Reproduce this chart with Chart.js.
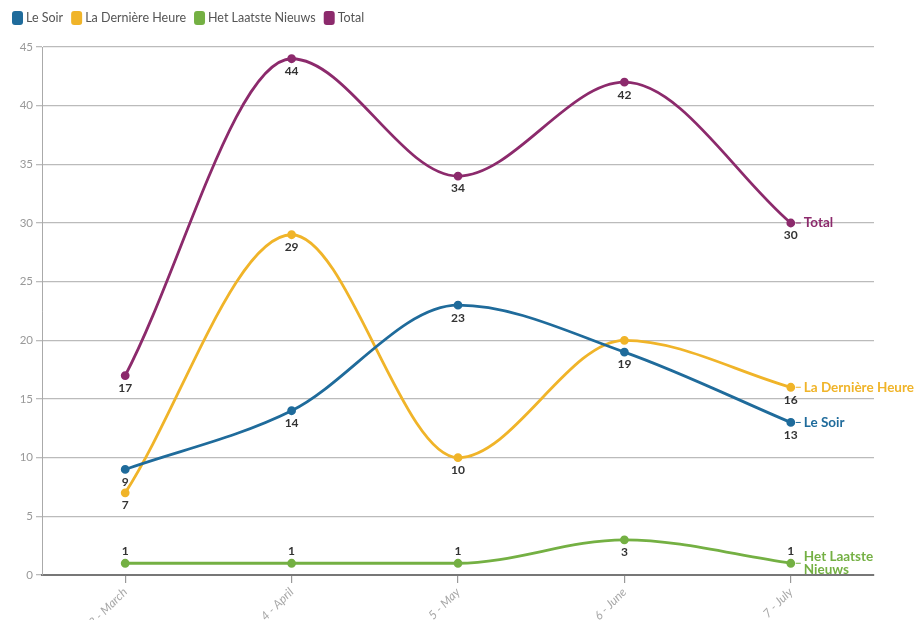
<!DOCTYPE html>
<html>
<head>
<meta charset="utf-8">
<script src="https://cdn.jsdelivr.net/npm/chart.js@4/dist/chart.umd.min.js"></script>
<style>
  html, body { margin: 0; padding: 0; background: #fff; }
  #wrap { width: 914px; height: 620px; position: relative; }
</style>
</head>
<body>
<div id="wrap"><canvas id="c" width="914" height="620"></canvas></div>
<script>
// ---- data ----
const categories = ['3 - March', '4 - April', '5 - May', '6 - June', '7 - July'];
const seriesNames = ['Le Soir', 'La Dernière Heure', 'Het Laatste Nieuws', 'Total'];
const leSoir = [9, 14, 23, 19, 13];
const laDerniereHeure = [7, 29, 10, 20, 16];
const hetLaatsteNieuws = [1, 1, 1, 3, 1];
const total = [17, 44, 34, 42, 30];
const yTicks = [0, 5, 10, 15, 20, 25, 30, 35, 40, 45];
const endLabels = [['Le Soir'], ['La Dernière Heure'], ['Het Laatste', 'Nieuws'], ['Total']];

// label placement per point: 1 = below, -1 = above, 0 = none
const labelPlacement = [
  [1, 1, 1, 1, 1],
  [1, 1, 1, 0, 1],
  [-1, -1, -1, 1, -1],
  [1, 1, 1, 1, 1]
];

const colors = ['#1f6b9b', '#f0b429', '#74b043', '#8c2a6c'];
const FONT = 'Lato, "Open Sans", sans-serif';

const seriesData = [leSoir, laDerniereHeure, hetLaatsteNieuws, total];

const datasets = seriesData.map((d, i) => ({
  label: seriesNames[i],
  data: d,
  borderColor: colors[i],
  backgroundColor: colors[i],
  pointBackgroundColor: colors[i],
  pointBorderColor: colors[i],
  borderWidth: 2.8,
  pointRadius: 3,
  pointHoverRadius: 3,
  cubicInterpolationMode: 'monotone',
  fill: false
}));

const labelsPlugin = {
  id: 'customLabels',
  afterDatasetsDraw(chart) {
    const ctx = chart.ctx;
    ctx.save();
    // value labels
    ctx.font = 'bold 12px ' + FONT;
    ctx.fillStyle = '#333';
    ctx.textAlign = 'center';
    ctx.textBaseline = 'middle';
    chart.data.datasets.forEach((ds, i) => {
      const meta = chart.getDatasetMeta(i);
      meta.data.forEach((pt, j) => {
        const p = labelPlacement[i][j];
        if (!p) return;
        ctx.fillText(String(ds.data[j]), pt.x, pt.y + p * 12.5);
      });
    });
    // end labels
    ctx.font = 'bold 13.5px ' + FONT;
    ctx.textAlign = 'left';
    chart.data.datasets.forEach((ds, i) => {
      const meta = chart.getDatasetMeta(i);
      const pt = meta.data[meta.data.length - 1];
      ctx.fillStyle = colors[i];
      ctx.strokeStyle = colors[i];
      ctx.lineWidth = 1;
      const lines = endLabels[i];
      ctx.beginPath();
      ctx.moveTo(pt.x + 5, pt.y);
      ctx.lineTo(pt.x + 10, pt.y);
      ctx.stroke();
      if (lines.length === 1) {
        ctx.fillText(lines[0], pt.x + 13, pt.y);
      } else {
        ctx.fillText(lines[0], pt.x + 13, pt.y - 7);
        ctx.fillText(lines[1], pt.x + 13, pt.y + 6);
      }
    });
    ctx.restore();
  }
};

const legendPlugin = {
  id: 'customLegend',
  afterDraw(chart) {
    const ctx = chart.ctx;
    ctx.save();
    ctx.font = '12.5px ' + FONT;
    ctx.textBaseline = 'middle';
    ctx.textAlign = 'left';
    let x = 12;
    const y = 18;
    seriesNames.forEach((name, i) => {
      ctx.fillStyle = colors[i];
      ctx.beginPath();
      if (ctx.roundRect) ctx.roundRect(x, y - 7, 11, 14, 3); else ctx.rect(x, y - 7, 11, 14);
      ctx.fill();
      x += 14;
      ctx.fillStyle = '#555';
      ctx.fillText(name, x, y);
      x += ctx.measureText(name).width + 8;
    });
    ctx.restore();
  }
};

new Chart(document.getElementById('c'), {
  type: 'line',
  data: { labels: categories, datasets },
  options: {
    responsive: false,
    animation: false,
    devicePixelRatio: 1,
    layout: { padding: { top: 47, right: 40, left: 0, bottom: 0 } },
    plugins: {
      legend: { display: false },
      tooltip: { enabled: false }
    },
    scales: {
      x: {
        offset: true,
        afterFit(scale) { scale.height = 45; },
        grid: {
          drawOnChartArea: false,
          drawTicks: true,
          tickLength: 8,
          color: '#999',
          lineWidth: 1.2,
          offset: false
        },
        border: { display: true, color: '#777', width: 2 },
        ticks: {
          color: '#a8a8a8',
          font: { family: FONT, size: 12, style: 'italic' },
          maxRotation: 45,
          minRotation: 45,
          padding: 2
        }
      },
      y: {
        min: 0,
        max: 45,
        afterFit(scale) { scale.width = 42; },
        afterBuildTicks(scale) { scale.ticks = yTicks.map(v => ({ value: v })); },
        grid: {
          color: '#bbb',
          lineWidth: 1.3,
          tickLength: 6,
          drawTicks: true
        },
        border: { display: true, color: '#aaa', width: 1 },
        ticks: {
          color: '#999',
          font: { family: FONT, size: 11.5 },
          padding: 3
        }
      }
    }
  },
  plugins: [labelsPlugin, legendPlugin]
});
</script>
</body>
</html>
